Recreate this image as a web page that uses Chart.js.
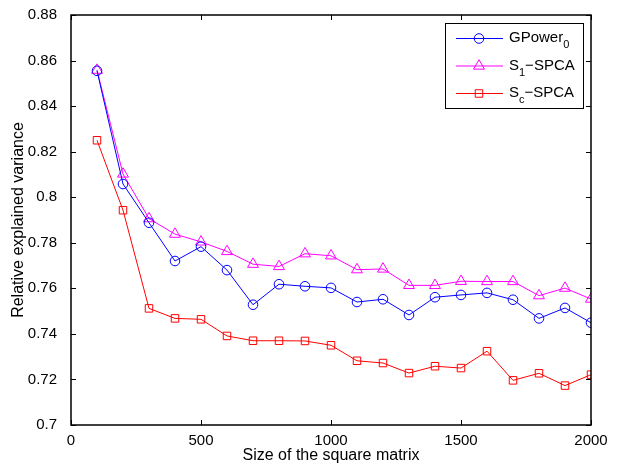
<!DOCTYPE html>
<html>
<head>
<meta charset="utf-8">
<script src="https://cdn.jsdelivr.net/npm/chart.js@4/dist/chart.umd.min.js"></script>
<style>
  html, body { margin: 0; padding: 0; background: #fff; }
  #wrap { width: 622px; height: 468px; }
</style>
</head>
<body>
<div id="wrap"><canvas id="varChart" width="622" height="468"></canvas></div>
<script>
// matrix sizes (x) and relative explained variance per method
const sizes = [100, 200, 300, 400, 500, 600, 700, 800, 900, 1000,
               1100, 1200, 1300, 1400, 1500, 1600, 1700, 1800, 1900, 2000];
const gpower0 = [0.8555, 0.8058, 0.7888, 0.7720, 0.7783, 0.7680, 0.7528, 0.7618, 0.7609, 0.7602,
                 0.7540, 0.7552, 0.7483, 0.7561, 0.7571, 0.7580, 0.7550, 0.7468, 0.7514, 0.7449];
const s1Spca = [0.8558, 0.8102, 0.7906, 0.7838, 0.7804, 0.7762, 0.7706, 0.7696, 0.7752, 0.7743,
                0.7682, 0.7685, 0.7613, 0.7613, 0.7631, 0.7630, 0.7630, 0.7568, 0.7601, 0.7553];
const scSpca = [0.8250, 0.7943, 0.7512, 0.7468, 0.7464, 0.7391, 0.7370, 0.7370, 0.7369, 0.7350,
                0.7282, 0.7272, 0.7228, 0.7258, 0.7250, 0.7324, 0.7196, 0.7227, 0.7173, 0.7221];

const seriesNames = ['GPower_0', 'S_1\u2212SPCA', 'S_c\u2212SPCA'];
const xTicks = [0, 500, 1000, 1500, 2000];
const yTicks = [0.7, 0.72, 0.74, 0.76, 0.78, 0.8, 0.82, 0.84, 0.86, 0.88];

const FONT = '"Liberation Sans", Arial, Helvetica, sans-serif';

function pts(vals) {
  return sizes.map((s, i) => ({ x: s, y: vals[i] }));
}

// box around the plot with inward ticks on all four sides (matlab style)
const boxPlugin = {
  id: 'box',
  afterDatasetsDraw(chart) {
    const { ctx, chartArea: a, scales } = chart;
    const len = 5;
    ctx.save();
    ctx.strokeStyle = '#000';
    ctx.lineWidth = 1.5;
    ctx.strokeRect(a.left, a.top, a.right - a.left, a.bottom - a.top);
    ctx.lineWidth = 1;
    ctx.beginPath();
    xTicks.forEach(v => {
      const x = Math.round(scales.x.getPixelForValue(v)) + 0.5;
      ctx.moveTo(x, a.bottom); ctx.lineTo(x, a.bottom - len);
      ctx.moveTo(x, a.top); ctx.lineTo(x, a.top + len);
    });
    yTicks.forEach(v => {
      const y = Math.round(scales.y.getPixelForValue(v)) + 0.5;
      ctx.moveTo(a.left, y); ctx.lineTo(a.left + len, y);
      ctx.moveTo(a.right, y); ctx.lineTo(a.right - len, y);
    });
    ctx.stroke();
    ctx.restore();
  }
};

// legend with subscripts, e.g. "S_1" -> S with a small 1
function drawSubText(ctx, text, x, y) {
  const parts = text.split(/_(.)/);
  let cx = x;
  parts.forEach((p, i) => {
    if (!p) return;
    const sub = i % 2 === 1;
    ctx.font = (sub ? '11px ' : '15px ') + FONT;
    ctx.fillText(p, cx, sub ? y + 6 : y);
    cx += ctx.measureText(p).width;
  });
}

const legendPlugin = {
  id: 'subLegend',
  afterDraw(chart) {
    const { ctx, chartArea: a } = chart;
    const w = 138, h = 85;
    const bx = a.right - 8 - w, by = a.top + 7.5;
    ctx.save();
    ctx.fillStyle = '#fff';
    ctx.fillRect(bx, by, w, h);
    ctx.strokeStyle = '#000';
    ctx.lineWidth = 1;
    ctx.strokeRect(Math.round(bx) + 0.5, Math.round(by) + 0.5, w, h);
    chart.data.datasets.forEach((ds, i) => {
      const ry = by + 16 + i * 27.5;
      ctx.strokeStyle = ds.borderColor;
      ctx.lineWidth = 1;
      ctx.beginPath();
      ctx.moveTo(bx + 11, ry);
      ctx.lineTo(bx + 58, ry);
      ctx.stroke();
      ctx.fillStyle = 'rgba(0,0,0,0)';
      Chart.helpers.drawPoint(ctx, {
        pointStyle: ds.pointStyle, rotation: 0, borderWidth: 1, radius: ds.pointRadius
      }, bx + 34, ry);
      ctx.fillStyle = '#000';
      ctx.textBaseline = 'alphabetic';
      drawSubText(ctx, ds.label, bx + 64, ry + 3.5);
    });
    ctx.restore();
  }
};

const data = {
  datasets: [
    {
      label: seriesNames[0], data: pts(gpower0),
      borderColor: '#0000ff', pointStyle: 'circle', pointRadius: 4.8
    },
    {
      label: seriesNames[1], data: pts(s1Spca),
      borderColor: '#ff00ff', pointStyle: 'triangle', pointRadius: 6.3
    },
    {
      label: seriesNames[2], data: pts(scSpca),
      borderColor: '#ff0000', pointStyle: 'rect', pointRadius: 5.3
    }
  ]
};
data.datasets.forEach(ds => {
  ds.borderWidth = 1;
  ds.pointBorderColor = ds.borderColor;
  ds.pointBackgroundColor = 'rgba(0,0,0,0)';
  ds.pointBorderWidth = 1;
  ds.tension = 0;
});

const config = {
  type: 'line',
  data: data,
  options: {
    responsive: false,
    animation: false,
    events: [],
    layout: { padding: { top: 15, right: 31, left: 0, bottom: 0 } },
    plugins: { legend: { display: false }, tooltip: { enabled: false } },
    scales: {
      x: {
        type: 'linear', min: 0, max: 2000,
        grid: { display: false }, border: { display: false },
        afterBuildTicks: s => { s.ticks = xTicks.map(v => ({ value: v })); },
        afterFit: s => { s.height = 43; },
        ticks: { color: '#000', font: { family: FONT, size: 15 }, padding: -1, maxRotation: 0,
                 callback: v => String(v) },
        title: { display: true, text: 'Size of the square matrix', color: '#000',
                 font: { family: FONT, size: 16 }, padding: { top: 0, bottom: 3 } }
      },
      y: {
        min: 0.7, max: 0.88,
        grid: { display: false }, border: { display: false },
        afterBuildTicks: s => { s.ticks = yTicks.map(v => ({ value: v })); },
        afterFit: s => { s.width = 71; },
        ticks: { color: '#000', font: { family: FONT, size: 15 }, padding: 6,
                 callback: v => String(parseFloat(v.toFixed(2))) },
        title: { display: true, text: 'Relative explained variance', color: '#000',
                 font: { family: FONT, size: 16 }, padding: { top: 9, bottom: 0 } }
      }
    }
  },
  plugins: [boxPlugin, legendPlugin]
};

new Chart(document.getElementById('varChart').getContext('2d'), config);
</script>
</body>
</html>
